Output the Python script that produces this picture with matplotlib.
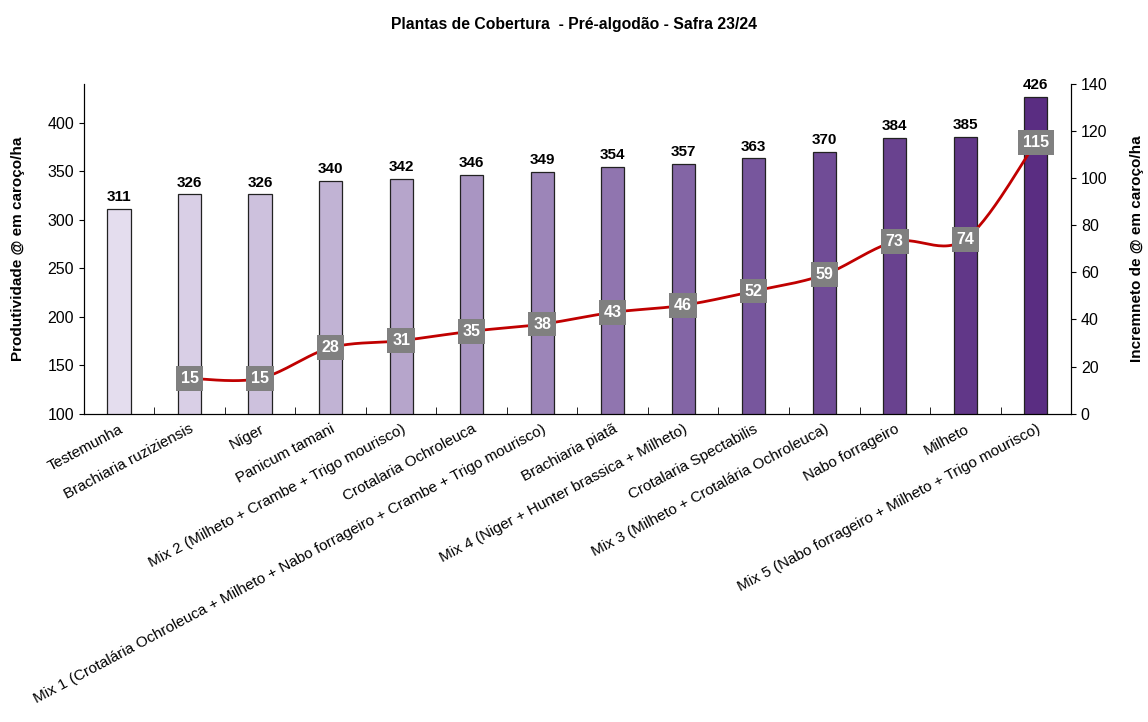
import numpy as np
import matplotlib.pyplot as plt
from matplotlib.colors import LinearSegmentedColormap

plt.rcParams['font.family'] = ['Liberation Sans Narrow', 'Liberation Sans', 'DejaVu Sans']

categorias = ["Testemunha", "Brachiaria ruziziensis", "Níger", "Panicum tamani",
              "Mix 2 (Milheto + Crambe + Trigo mourisco)", "Crotalaria Ochroleuca",
              "Mix 1 (Crotalária Ochroleuca + Milheto + Nabo forrageiro + Crambe + Trigo mourisco)",
              "Brachiaria piatã", "Mix 4 (Niger + Hunter brassica + Milheto)",
              "Crotalaria Spectabilis", "Mix 3 (Milheto + Crotalária Ochroleuca)",
              "Nabo forrageiro", "Milheto",
              "Mix 5 (Nabo forrageiro + Milheto + Trigo mourisco)"]
produtividade = [311, 326, 326, 340, 342, 346, 349, 354, 357, 363, 370, 384, 385, 426]
incremento = [15, 15, 28, 31, 35, 38, 43, 46, 52, 59, 73, 74, 115]


def catmull(xs, ys, n=30):
    # curva suavizada tipo Excel
    xs = np.asarray(xs, float)
    ys = np.asarray(ys, float)
    px = np.concatenate([[xs[0]], xs, [xs[-1]]])
    py = np.concatenate([[ys[0]], ys, [ys[-1]]])
    ox, oy = [], []
    for i in range(1, len(px) - 2):
        t = np.linspace(0, 1, n)
        b0x, b3x = px[i], px[i + 1]
        b0y, b3y = py[i], py[i + 1]
        b1x = px[i] + (px[i + 1] - px[i - 1]) / 6
        b1y = py[i] + (py[i + 1] - py[i - 1]) / 6
        b2x = px[i + 1] - (px[i + 2] - px[i]) / 6
        b2y = py[i + 1] - (py[i + 2] - py[i]) / 6
        ox.extend((1 - t) ** 3 * b0x + 3 * (1 - t) ** 2 * t * b1x + 3 * (1 - t) * t ** 2 * b2x + t ** 3 * b3x)
        oy.extend((1 - t) ** 3 * b0y + 3 * (1 - t) ** 2 * t * b1y + 3 * (1 - t) * t ** 2 * b2y + t ** 3 * b3y)
    return ox, oy


fig = plt.figure(figsize=(11.48, 7.22), dpi=100)
ax = fig.add_axes([0.073, 0.427, 0.86, 0.457])
ax2 = ax.twinx()

x = np.arange(len(categorias))
cmap = LinearSegmentedColormap.from_list("roxo", ["#e4ddee", "#b2a0c8", "#7a5a9f", "#5a2d82"])
cores = [cmap(i / (len(x) - 1)) for i in x]
ax.bar(x, produtividade, width=0.33, color=cores, edgecolor="#222222", linewidth=0.9, zorder=2)
for xi, v in zip(x, produtividade):
    ax.text(xi, v + 5, str(v), ha="center", va="bottom", fontsize=11, fontweight="bold")

ax.set_xlim(-0.5, len(x) - 0.5)
ax.set_ylim(100, 440)
ax.set_yticks(range(100, 401, 50))
ax.set_xticks(x)
ax.set_xticklabels(categorias, rotation=28, ha="right", va="top", rotation_mode="anchor", fontsize=11)
ax.tick_params(axis="x", length=0, pad=6)
ax.set_xticks(np.arange(0.5, len(x) - 0.5, 1), minor=True)
ax.tick_params(axis="x", which="minor", direction="in", length=5)
ax.tick_params(axis="y", labelsize=11.5)
ax.set_ylabel("Produtividade @ em caroço/ha", fontsize=11, fontweight="bold", labelpad=16)
ax.spines["top"].set_visible(False)

xl, yl = catmull(x[1:], incremento)
ax2.plot(xl, yl, color="#c00000", linewidth=2, zorder=3)
for xi, v in zip(x[1:], incremento):
    ax2.text(xi, v, str(v), ha="center", va="center", color="white", fontsize=11.5, fontweight="bold",
             bbox=dict(boxstyle="square,pad=0.3", fc="#808080", ec="none"), zorder=4)
ax2.set_ylim(0, 140)
ax2.set_yticks(range(0, 141, 20))
ax2.tick_params(axis="y", labelsize=11.5)
ax2.set_ylabel("Incremneto de @ em caroço/ha", fontsize=11, fontweight="bold", labelpad=16)
ax2.spines["top"].set_visible(False)

fig.suptitle("Plantas de Cobertura  - Pré-algodão - Safra 23/24", y=0.977, fontsize=11.3, fontweight="bold")

plt.savefig("out.png", dpi=100)
